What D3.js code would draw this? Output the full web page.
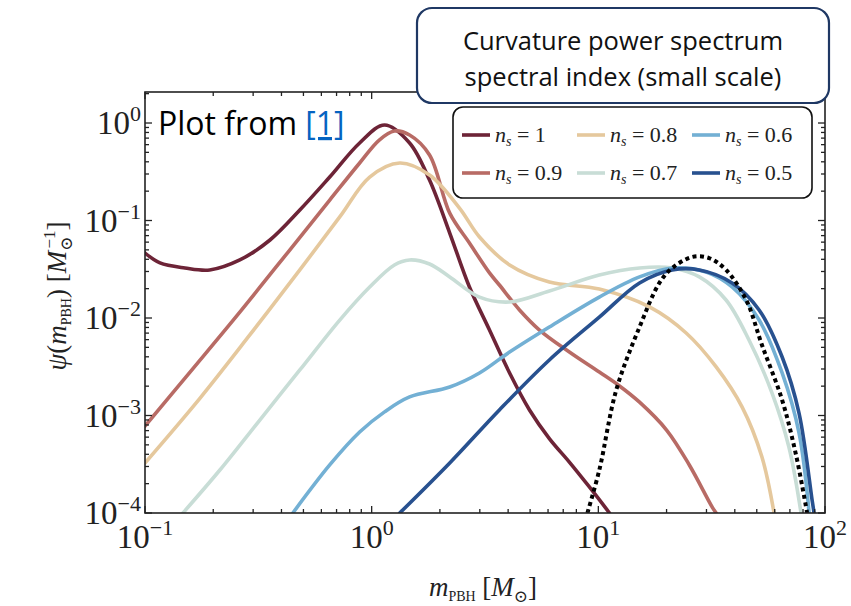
<!DOCTYPE html>
<html>
<head>
<meta charset="utf-8">
<script src="https://cdn.jsdelivr.net/npm/d3@7"></script>
<style>
  body { margin: 0; background: #fff; }
  svg { display: block; }
</style>
</head>
<body>
<svg id="chart" width="851" height="606"></svg>
<script>
// series values: [m_PBH (M_sun), psi (1/M_sun)]
const ns1 = [[0.1, 0.0464], [0.1164, 0.0367], [0.150, 0.0326], [0.193, 0.0311], [0.262, 0.0394],
    [0.356, 0.0631], [0.482, 0.128], [0.653, 0.279], [0.885, 0.624], [1.14, 0.954], [1.47, 0.624],
    [1.80, 0.260], [2.21, 0.0744], [2.70, 0.0208], [3.31, 0.00753], [4.06, 0.00273], [4.97, 0.00114],
    [6.08, 0.00058], [7.45, 0.000333], [9.13, 0.000185], [11.2, 0.0001]];
const ns09 = [[0.1, 0.00078], [0.158, 0.00279], [0.262, 0.0115], [0.435, 0.0498], [0.653, 0.162],
    [0.885, 0.389], [1.08, 0.669], [1.26, 0.828], [1.47, 0.753], [1.80, 0.470], [2.21, 0.119],
    [2.70, 0.0588], [3.31, 0.0290], [3.66, 0.0218], [4.49, 0.0121], [5.50, 0.00753], [7.45, 0.00448],
    [10.1, 0.00279], [12.4, 0.00201], [15.2, 0.00137], [20.0, 0.00071], [25.2, 0.000311],
    [31.8, 0.000115], [33.1, 0.0001]];
const ns08 = [[0.1, 0.000326], [0.175, 0.00151], [0.290, 0.0067], [0.482, 0.0311], [0.723, 0.109],
    [0.980, 0.279], [1.33, 0.389], [1.80, 0.293], [2.44, 0.134], [2.99, 0.0677], [4.06, 0.035],
    [6.08, 0.0234], [10.1, 0.0198], [16.8, 0.013], [24.4, 0.00702], [33.1, 0.00315], [43.1, 0.00122],
    [52.7, 0.000375], [59.6, 0.0001]];
const ns07 = [[0.147, 0.0001], [0.214, 0.000276], [0.321, 0.000899], [0.482, 0.00293], [0.723, 0.00953],
    [0.980, 0.0208], [1.26, 0.035], [1.47, 0.0394], [1.80, 0.0358], [2.21, 0.0264], [2.99, 0.0164],
    [4.06, 0.0146], [6.08, 0.0189], [10.1, 0.0276], [15.2, 0.0326], [21.2, 0.0326], [27.9, 0.0264],
    [36.6, 0.0153], [46.2, 0.00595], [58.4, 0.0017], [69.3, 0.000475], [78.4, 0.0001]];
const ns06 = [[0.449, 0.0001], [0.653, 0.000311], [0.885, 0.000677], [1.14, 0.00109], [1.47, 0.00155],
    [2.21, 0.00196], [2.99, 0.00273], [4.06, 0.00448], [6.08, 0.00809], [10.1, 0.0164], [15.2, 0.0264],
    [21.2, 0.0326], [29.9, 0.0296], [38.9, 0.0208], [51.2, 0.00953], [64.7, 0.00273], [76.8, 0.000662],
    [85.1, 0.0001]];
const ns05 = [[1.33, 0.0001], [2.21, 0.000326], [3.66, 0.00114], [6.08, 0.00371], [10.1, 0.0102],
    [15.2, 0.0229], [21.2, 0.0311], [27.9, 0.0311], [38.9, 0.0229], [51.2, 0.0121], [64.7, 0.00398],
    [76.8, 0.00106], [87.7, 0.000136], [89.5, 0.0001]];
const monochromatic = [[8.95, 0.0001], [10.1, 0.000276], [12.0, 0.00183], [15.2, 0.00809], [18.6, 0.0229],
    [21.2, 0.0326], [26.0, 0.0423], [30.8, 0.0412], [36.6, 0.0311], [44.9, 0.0153], [52.7, 0.00529],
    [64.7, 0.00144], [74.5, 0.000394], [83.4, 0.0001]];

const nsLabels = ["1", "0.9", "0.8", "0.7", "0.6", "0.5"];
const xTicks = [0.1, 1, 10, 100];
const xTickExp = ["\u22121", "0", "1", "2"];
const yTicks = [1e-4, 1e-3, 1e-2, 1e-1, 1];
const yTickExp = ["\u22124", "\u22123", "\u22122", "\u22121", "0"];
const boxLines = ["Curvature power spectrum", "spectral index (small scale)"];

const seriesColors = ["#6d2437", "#b86b65", "#e5c89d", "#c8ddd6", "#73b0d4", "#28518f"];
const allSeries = [ns1, ns09, ns08, ns07, ns06, ns05];

const svg = d3.select("#chart");
const plot = { left: 145, right: 825, top: 92, bottom: 513 };
const mathFont = "'Liberation Serif', 'DejaVu Serif', serif";

const x = d3.scaleLog().domain([0.1, 100]).range([plot.left, plot.right]);
const y = d3.scaleLog().domain([1e-4, 2.08]).range([plot.bottom, plot.top]);

svg.append("defs").append("clipPath").attr("id", "clip")
    .append("rect")
    .attr("x", plot.left).attr("y", plot.top)
    .attr("width", plot.right - plot.left).attr("height", plot.bottom - plot.top);

// curves
const line = d3.line()
    .x(d => x(d[0]))
    .y(d => y(d[1]))
    .curve(d3.curveCatmullRom.alpha(0.5));

const curves = svg.append("g").attr("clip-path", "url(#clip)");

curves.selectAll("path.ns")
    .data(allSeries)
    .enter().append("path")
    .attr("class", "ns")
    .attr("d", d => line(d))
    .attr("fill", "none")
    .attr("stroke", (_, i) => seriesColors[i])
    .attr("stroke-width", 3.6)
    .attr("stroke-linecap", "round");

curves.append("path")
    .attr("d", line(monochromatic))
    .attr("fill", "none")
    .attr("stroke", "#000")
    .attr("stroke-width", 4)
    .attr("stroke-dasharray", "4,3.5");

// frame + ticks
const axisColor = "#222";
const frame = svg.append("g");
frame.append("rect")
    .attr("x", plot.left).attr("y", plot.top)
    .attr("width", plot.right - plot.left).attr("height", plot.bottom - plot.top)
    .attr("fill", "none").attr("stroke", axisColor).attr("stroke-width", 1.6);

function minorTicks(lo, hi) {
    var ans = [];
    for (var e = lo; e < hi; ++e) {
        for (var k = 2; k <= 9; ++k) ans.push(k * Math.pow(10, e));
    }
    return ans;
}

var xMinor = minorTicks(-1, 2);
var yMinor = minorTicks(-4, 1).filter(v => v <= 2.08);

var tickG = frame.append("g").attr("stroke", axisColor).attr("stroke-width", 1.3);

[[xTicks, 7], [xMinor, 4]].forEach(([vals, len]) => {
    vals.forEach(v => {
        tickG.append("line").attr("x1", x(v)).attr("x2", x(v))
            .attr("y1", plot.bottom).attr("y2", plot.bottom - len);
        tickG.append("line").attr("x1", x(v)).attr("x2", x(v))
            .attr("y1", plot.top).attr("y2", plot.top + len);
    });
});

[[yTicks, 7], [yMinor, 4]].forEach(([vals, len]) => {
    vals.forEach(v => {
        tickG.append("line").attr("y1", y(v)).attr("y2", y(v))
            .attr("x1", plot.left).attr("x2", plot.left + len);
        tickG.append("line").attr("y1", y(v)).attr("y2", y(v))
            .attr("x1", plot.right).attr("x2", plot.right - len);
    });
});

// tick labels
xTicks.forEach((v, i) => {
    var t = svg.append("text")
        .attr("x", x(v)).attr("y", 548)
        .attr("text-anchor", "middle")
        .attr("font-family", mathFont).attr("font-size", 33)
        .attr("fill", "#222");
    t.append("tspan").text("10");
    t.append("tspan").attr("dy", -13).attr("font-size", 22).text(xTickExp[i]);
});

yTicks.forEach((v, i) => {
    var t = svg.append("text")
        .attr("x", 141).attr("y", y(v) + 11)
        .attr("text-anchor", "end")
        .attr("font-family", mathFont).attr("font-size", 33)
        .attr("fill", "#222");
    t.append("tspan").text("10");
    t.append("tspan").attr("dy", -13).attr("font-size", 22).text(yTickExp[i]);
});

// axis titles
function mathText(sel, parts) {
    parts.forEach(p => {
        var ts = sel.append("tspan").text(p.t);
        if (p.it) ts.attr("font-style", "italic");
        if (p.size) ts.attr("font-size", p.size);
        if (p.dy) ts.attr("dy", p.dy);
        if (p.dx) ts.attr("dx", p.dx);
    });
}

var xl = svg.append("text")
    .attr("x", 483).attr("y", 596)
    .attr("text-anchor", "middle")
    .attr("font-family", mathFont).attr("font-size", 27).attr("fill", "#222");
mathText(xl, [
    { t: "m", it: true },
    { t: "PBH", size: 14, dy: 5 },
    { t: " [", dy: -5 },
    { t: "M", it: true },
    { t: "\u2299", size: 17, dy: 6 },
    { t: "]", dy: -6 }
]);

var yl = svg.append("text")
    .attr("transform", "translate(66,296) rotate(-90)")
    .attr("text-anchor", "middle")
    .attr("font-family", mathFont).attr("font-size", 27).attr("fill", "#222");
mathText(yl, [
    { t: "\u03c8", it: true },
    { t: "(" },
    { t: "m", it: true },
    { t: "PBH", size: 14, dy: 5 },
    { t: ") [", dy: -5 },
    { t: "M", it: true },
    { t: "\u2299", size: 17, dy: 6 },
    { t: "\u22121", size: 17, dy: -17, dx: -12 },
    { t: "]", dy: 11 }
]);

// legend
var legend = svg.append("g");
legend.append("rect")
    .attr("x", 453).attr("y", 107).attr("width", 359).attr("height", 91)
    .attr("rx", 10)
    .attr("fill", "#fff").attr("stroke", "#111").attr("stroke-width", 1.6);

var colX = [462, 577, 692];
var rowY = [135, 173];
nsLabels.forEach((lab, i) => {
    var cx = colX[Math.floor(i / 2)], cy = rowY[i % 2];
    legend.append("line")
        .attr("x1", cx).attr("x2", cx + 28).attr("y1", cy).attr("y2", cy)
        .attr("stroke", seriesColors[i]).attr("stroke-width", 3.6);
    var t = legend.append("text")
        .attr("x", cx + 33).attr("y", cy + 7)
        .attr("font-family", mathFont).attr("font-size", 22).attr("fill", "#222");
    mathText(t, [
        { t: "n", it: true },
        { t: "s", it: true, size: 14, dy: 4 },
        { t: " = " + lab, dy: -4 }
    ]);
});

// annotation box
var box = svg.append("g");
box.append("rect")
    .attr("x", 417).attr("y", 8).attr("width", 412).attr("height", 95)
    .attr("rx", 15)
    .attr("fill", "#fff").attr("stroke", "#1f3864").attr("stroke-width", 2.2);
box.selectAll("text")
    .data(boxLines)
    .enter().append("text")
    .attr("x", 623).attr("y", (_, i) => 50 + i * 36)
    .attr("text-anchor", "middle")
    .attr("font-family", "'Open Sans', 'Noto Sans', sans-serif").attr("font-size", 25.5)
    .attr("fill", "#111")
    .text(d => d);

// "Plot from [1]"
var note = svg.append("text")
    .attr("x", 158).attr("y", 135)
    .attr("font-family", "'Open Sans', 'Noto Sans', sans-serif").attr("font-size", 32)
    .attr("fill", "#000");
note.append("tspan").text("Plot from ");
note.append("tspan").attr("fill", "#0563c1").attr("text-decoration", "underline").text("[1]");
</script>
</body>
</html>
